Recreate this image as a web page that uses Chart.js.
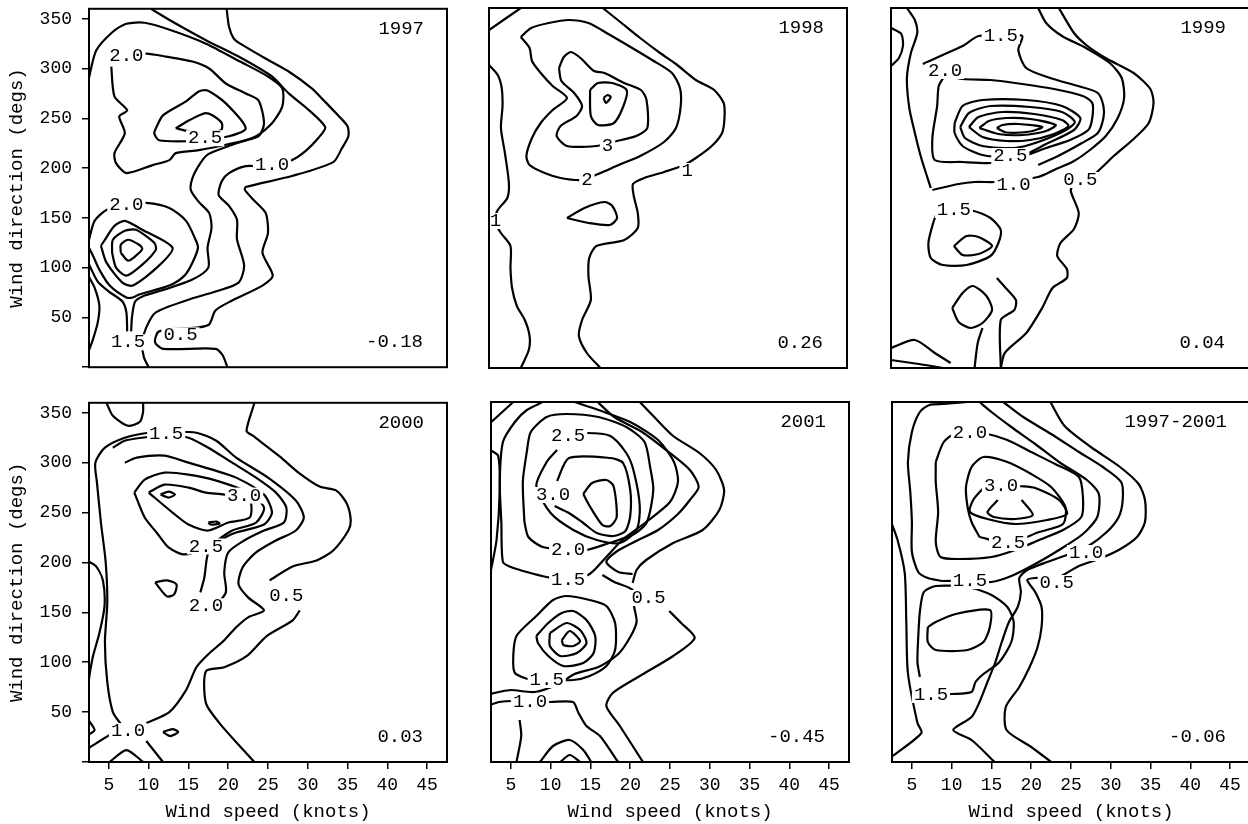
<!DOCTYPE html>
<html><head><meta charset="utf-8">
<script src="https://cdn.jsdelivr.net/npm/chart.js@4.4.1/dist/chart.umd.min.js"></script>
<style>
html,body{margin:0;padding:0;background:#fff;}
body{width:1248px;height:824px;overflow:hidden;position:relative;}
canvas{position:absolute;}
</style></head>
<body>
<canvas id="c0"></canvas><canvas id="c1"></canvas><canvas id="c2"></canvas>
<canvas id="c3"></canvas><canvas id="c4"></canvas><canvas id="c5"></canvas>
<script>
// ---------- data ----------
const xTicks = [5,10,15,20,25,30,35,40,45];
const yTicks = [0,50,100,150,200,250,300,350];
const panelTitles = ['1997','1998','1999','2000','2001','1997-2001'];
const panelCorr = ['-0.18','0.26','0.04','0.03','-0.45','-0.06'];

// contour polylines: [wind speed (knots), wind direction (degs)]
const lines1997 = [
 [[19.8,360],[20.1,342],[20.7,330],[21.5,325],[24.7,310],[27.6,297],[30.5,280],[32,268],[33.8,253],[35,242],[35.1,232],[34.3,220],[33.2,206],[28,192],[22.2,181],[22.1,178],[23.2,168],[24.7,155],[25,135],[24.3,115],[25.6,92],[24.3,82],[20.5,67],[18.4,57],[17.6,43],[16.3,40],[11.3,36],[10.8,25],[11.8,18.5],[18.4,18.5],[19.3,12],[19.9,0]],
 [[10.3,360],[13,347],[17.2,328.5],[21.3,312],[25.5,292],[27.6,275],[30.1,258.5],[32.2,241],[31.3,230],[29.7,217],[28,208],[24.7,202],[22.2,202],[20.1,195],[19.2,187],[18.8,173],[20.1,162],[21.1,148],[21.1,128.5],[22,102],[21.3,85],[18.4,76],[14.7,67],[10.9,55],[9.7,40],[9.2,25],[9.4,10],[10,0]],
 [[2.4,287],[3.4,318],[5.5,337],[7.2,345],[9.5,346],[13,338],[17.2,325],[21.5,307],[25,292],[26.8,280],[26.8,262],[25.5,245],[23.5,232],[20,222],[17.5,214],[16.5,205],[15.5,190],[15.3,178],[16.3,166],[17.6,155],[17.9,140],[17.4,120],[17.5,100],[15.5,88],[12,78],[9.5,72],[8.3,66],[7.9,50],[7.8,36]],
 [[7.3,36],[7.2,55],[6.7,66],[5,76],[3.6,86],[2.4,105]],
 [[2.4,92],[3.2,80],[3.8,62],[3.6,45],[3,28],[2.4,15]],
 [[7.2,313],[9.7,315],[12.2,312],[15.5,307],[17.6,300],[19.7,285],[22.2,275],[23.8,268],[24.5,245],[23.8,232],[20.5,225],[16.3,218],[13.4,215],[12.6,208],[10.5,203],[7.2,195],[5.9,205],[5.7,215],[7,235],[6.3,252],[7.3,258],[5.7,272],[5.3,302]],
 [[10.9,240],[11.8,253],[14.7,267],[16.3,277],[17.4,278],[19.7,265],[22.2,240],[20.1,232],[17.2,229],[14.9,227],[11.3,228],[10.7,235],[10.9,240]],
 [[13.4,240],[15.1,248],[17,255],[18,253],[19.2,245],[19.1,238],[17,236],[15,237],[13.4,240]],
 [[2.5,128],[3.2,147],[4.7,158],[7.2,164],[9.7,165],[12.6,160],[14.7,147],[15.9,128],[16.2,120],[15.5,105],[14.5,92],[12.6,82],[8.8,73],[8,70],[7.2,70],[5.1,82],[3.8,98],[3,112],[2.5,120]],
 [[4,122],[4.5,128],[5.7,142],[7,147],[9.2,138],[13,120],[11.3,102],[8,82],[6.7,85],[4.7,105],[4,122]],
 [[5.4,115],[5.5,128],[7,137],[8.4,138],[10.7,125],[10.9,118],[9.2,103],[7.2,92],[5.9,100],[5.4,115]],
 [[6.5,115],[6.5,123],[7.4,128],[8.8,123],[9.2,119],[8.4,112],[7.4,107],[6.5,115]]
];
const labels1997 = [['2.0',7.2,313],['2.5',17.1,230],['1.0',25.5,203],['2.0',7.2,163],['1.5',7.4,25],['0.5',14,32]];

const lines1998 = [
 [[2.5,338],[6.5,360]],
 [[2.5,303],[3.6,293],[4.1,280],[4.2,262],[4,240],[4.5,215],[5,185],[4.8,170],[3.6,158],[3.2,147],[4,135],[5.2,122],[5.2,100],[5.4,80],[6,62],[7,48],[7.6,32],[7.5,18],[6.5,0]],
 [[16.8,360],[19,346],[21.5,330],[24,315],[26,304],[28.5,288],[30.8,278],[32,265],[32.1,250],[31.8,235],[30.5,222],[28.5,210],[27,203],[24.5,196],[22,190],[20.6,184],[20.7,172],[21.2,155],[21.2,140],[19.5,128],[16,122],[15.1,110],[15,92],[15.3,68],[14.2,48],[13.8,32],[14.8,15],[16.5,0]],
 [[6.5,331],[7.8,340],[10,345],[12.5,348],[15,345],[17.5,334],[20.5,320],[23,308],[25.5,295],[26.5,280],[26.6,262],[26,240],[24.5,226],[21.5,212],[18.5,202],[16.5,195],[14.2,188],[11.5,190],[9.5,195],[7.6,203],[7.2,212],[7.9,230],[9,245],[10.5,258],[12.3,270],[10.5,282],[9,295],[7.9,307],[7.6,320],[6.5,331]],
 [[11.3,300],[11.9,311],[12.8,316],[14,310],[15.7,297],[17,295],[19.5,285],[21.6,278],[22.3,268],[22.4,240],[21,232],[18,226],[16,222],[12.3,222],[11,232],[11.5,242],[13.5,252],[14.2,262],[13.2,275],[11.6,287],[11.3,300]],
 [[15.2,278],[16.2,285],[18,285],[19.8,278],[19.4,262],[18.2,245],[16.2,243],[15.3,252],[15.2,278]],
 [[16.9,270],[17.4,273],[17.8,271],[17.2,265],[16.9,270]],
 [[12.3,150],[14.5,160],[17,166],[18,162],[18.6,150],[17.7,143],[15,145],[12.3,150]]
];
const labels1998 = [['1',27.4,197],['2',14.8,188],['3',17.4,222],['1',3.3,147]];

const lines1999 = [
 [[23.6,360],[25.5,335],[27.2,322],[29.7,309],[33,295],[35.1,279],[35.5,265],[34.9,245],[33,229],[30.5,212],[29.2,202],[27.5,190],[25.5,184],[25.1,177],[26.1,155],[25.5,139],[23.8,125],[23.4,112],[24.6,99],[24.6,90],[22.8,80],[21.5,60],[19.5,35],[16.8,15],[16.3,0]],
 [[21,360],[22,345],[24,332],[27,320],[30,305],[31.5,290],[31.8,270],[31,250],[29.5,232],[27.5,218],[25.5,207],[23,198],[21,191],[18,188],[15.5,186],[13,186],[11,184],[7.7,178]],
 [[6.5,304],[9,313],[11.5,322],[13.5,332],[16.3,332],[19,332],[18.5,318],[19.5,300],[22.5,290],[26,282],[28.5,275],[29.2,262],[29.2,250],[28.5,235],[26.5,225],[23.5,212],[21,203]],
 [[9.3,293],[11.5,289],[15,288],[19,284],[23,279],[26.6,272],[27.8,265],[27.8,250],[27.3,238],[25,228],[22,220],[18.5,210],[15,205],[11.5,206],[8,208],[7.7,230],[8.3,262],[8.5,282],[9.3,293]],
 [[10.5,245],[11.5,262],[14,268],[19.5,268],[24,262],[26.3,250],[25.5,238],[22,224],[19.5,214],[17.5,211],[14,213],[11.5,222],[10.5,235],[10.5,245]],
 [[11.2,241],[12.3,255],[15,262],[20,261],[24,256],[25.6,246],[24.5,238],[21,226],[18,220],[14,222],[11.8,230],[11.2,241]],
 [[12.3,241],[13.5,251],[16.5,256],[20.5,254],[24,248],[24.8,242],[23,234],[20,228],[17,227],[14,231],[12.3,241]],
 [[13.6,240],[14.8,247],[17,250],[20,249],[23.2,243],[22,237],[19,233],[16,234],[13.6,240]],
 [[15.8,240],[16.5,243],[18.5,244],[21.5,241],[20,236.5],[17,235.5],[15.8,240]],
 [[8.5,160],[10.4,160],[12.5,158],[15,150],[16.3,138],[16,125],[15,112],[12,103],[9,103],[7.5,110],[7.2,125],[7.8,145],[8.5,160]],
 [[10.4,122],[12,132],[13.5,131],[15.2,122],[13.5,114],[11.5,113],[10.4,122]],
 [[10.2,60],[11.5,75],[12.8,82],[14.5,72],[15.2,58],[14,45],[12.5,40],[11,46],[10.2,60]],
 [[16.3,0],[16.3,48],[18,58],[18.2,68],[16.7,82],[15.8,90]],
 [[13,0],[13.4,25],[14,40]],
 [[2.5,340],[3.8,334],[4,322],[3.5,310],[2.5,302]],
 [[4.5,360],[5.5,348],[5.8,335],[5,315],[4.5,290],[4.8,260],[5.5,235],[6.3,210],[7.5,180]],
 [[2.5,20],[5.5,28],[8,15],[10,5]],
 [[2.5,8],[6,4],[9,0]]
];
const labels1999 = [['1.5',16.3,332],['2.0',9.3,297],['2.5',17.5,212],['1.0',17.9,183],['0.5',26.3,188],['1.5',10.4,158]];

const lines2000 = [
 [[23.3,360],[22.3,332],[23.1,327],[26.5,306],[29,289],[31.5,276],[33.6,272],[34.9,259],[35.4,242],[35.1,232],[33.2,212],[31.1,202],[28.1,196],[25.2,182]],
 [[29,152],[28.1,142],[24.8,126],[22.3,106],[19.5,95],[17.2,91],[17.2,59],[18.9,39],[21.9,12],[23.3,0]],
 [[9.7,39],[12.6,50],[14.7,72],[16,95],[17.5,108],[19.5,122],[21,135],[22.5,145],[24.5,152],[22.5,165],[21.3,178],[21.8,195],[23.5,210],[26,222],[28.5,232],[29.5,245],[28.5,262],[25,285],[21,305],[18.5,322],[16,330],[13,331],[10,330],[7,325],[4.5,315],[3.3,300],[3.5,280],[4,240],[4.6,200],[4.8,160],[4.5,120],[4.8,80],[5.5,50],[6.5,38]],
 [[4.7,360],[5.5,347],[7.4,337],[8.9,341],[9.3,351],[9.3,360]],
 [[5.5,315],[7,322],[10,326],[12.2,329],[15,325],[17.5,315],[20.5,300],[23.5,285],[26,270],[27.3,255],[27,240],[24.5,232],[22,222],[20,210],[19.5,190],[19.7,170],[18.3,155]],
 [[7,300],[8.5,305],[12,307],[15,300],[18,293],[21,285],[24.5,268],[25.5,250],[24.5,238],[21,230],[19,222],[17.5,210],[17,185],[16.5,170]],
 [[8.2,270],[9.5,283],[12,290],[15,288],[18.5,282],[22.5,270],[24.5,255],[23.5,240],[20.5,232],[17.2,215],[14.5,208],[12.5,215],[11,230],[9.5,245],[8.2,270]],
 [[10,270],[12,278],[15,275],[17.2,270],[19.5,268],[22.7,262],[22.7,245],[20,240],[17.5,232],[15,238],[13,250],[10,270]],
 [[11.5,268],[12.5,271],[13.3,268],[12.5,265],[11.5,268]],
 [[17.5,240],[18.5,241],[18.9,239],[17.8,238],[17.5,240]],
 [[10.8,180],[12.3,182],[13.5,178],[13.2,168],[12.3,166],[10.8,180]],
 [[11.8,30],[13,33],[13.7,30],[12.7,26],[11.8,30]],
 [[2.45,201],[3.4,196],[4.25,182],[4.45,156],[3.8,129],[3,106],[2.6,89],[2.45,80]],
 [[2.45,14],[5.1,27],[6,30]],
 [[5.1,0],[7.2,12],[9.3,0]],
 [[9.7,21],[11.8,0]],
 [[2.45,42],[3.2,32],[2.6,28]]
];
const labels2000 = [['1.5',12.2,329],['3.0',22,267],['2.5',17.2,216],['2.0',17.2,156],['0.5',27.3,166],['1.0',7.4,31]];

const lines2001 = [
 [[21.2,360],[22.9,346],[25.4,326],[28.7,309],[30.8,292],[31.8,272],[31.2,252],[29.1,232],[25.4,219],[22,202],[20.8,192],[20.3,179]],
 [[24.9,151],[26.4,139],[28.1,124],[25.4,106],[21.2,86],[17.8,69],[17,56],[18.7,36],[21.6,0]],
 [[15.9,360],[18,345],[21.5,330],[24.5,312],[27.5,292],[28.6,275],[27.5,262],[26,248],[23.5,232],[20.5,220],[18.2,210],[17,200],[18.5,190],[20.3,188]],
 [[16.5,187],[18,180],[20.3,172],[20.5,155],[20.8,140],[20,125],[18.5,108],[16,95],[13,88],[11,78],[8,70],[5,72],[3.5,70],[2.4,68]],
 [[9,360],[7,352],[5.5,340],[4,320],[3.6,280],[3.8,240],[4,200],[5,195],[7,190],[9.5,185],[12.2,182],[14.9,188],[17,205],[19,222],[22,240],[25,260],[26,280],[25.5,300],[23.5,322],[20,340],[16,352],[13,360]],
 [[6.7,240],[6.5,280],[7,310],[7.5,330],[9.5,345],[12,348],[16,345],[19.5,335],[21.8,320],[22.5,295],[22.9,272],[22.1,240],[20.5,228],[17,218],[14.5,212],[12.2,212],[9,215],[7.2,225],[6.7,240]],
 [[12.2,326],[14.5,329],[17.5,326],[19.5,309],[20.4,292],[21.2,256],[20.8,232],[18.7,219],[15.8,222],[12.85,232],[10,249],[8.2,276],[9.5,300],[10.8,312]],
 [[10.5,256],[12.3,249],[14.1,239],[15.8,229],[17.9,226],[19.4,231],[20,246],[20,272],[19.1,299],[17.5,304],[12.3,304],[10.8,281]],
 [[14.1,268],[15.2,279],[17,282],[17.9,276],[18.3,245],[17.5,236],[16.5,237],[14.9,256],[14.1,268]],
 [[9.5,82],[12.85,82],[14.9,86],[17,96],[18.1,112],[18.1,139],[17,156],[14.9,162],[12,166],[10.3,162],[8.2,146],[5.7,126],[5.3,106],[5.5,89],[7.4,82]],
 [[8.2,126],[9.7,139],[11.4,149],[12.85,151],[14.5,142],[15.6,126],[15.4,109],[14.1,99],[11.6,96],[9.7,106],[8.4,119],[8.2,126]],
 [[9.9,129],[12,139],[13.7,132],[14.5,119],[13.3,109],[11.2,106],[9.9,116],[9.9,129]],
 [[11.4,122],[12.4,131],[13.7,121],[12.85,116],[11.6,117],[11.4,122]],
 [[2.4,57],[3.5,60],[5.3,61],[7.4,60],[10,60],[12.8,60],[13.5,49],[14.5,36],[16.2,26],[18.3,2],[18.5,0]],
 [[6.1,42],[6.3,26],[5.7,0]],
 [[8.65,0],[10.3,16],[12.4,22],[14.1,12],[15.1,0]],
 [[11.2,0],[12.4,7],[13.7,0]],
 [[2.4,339],[5.3,360]],
 [[2.4,312],[3.4,306],[3.6,272],[3.2,222],[2.5,192]]
];
const labels2001 = [['2.5',12.2,326],['3.0',10.3,267],['2.0',12.2,212],['1.5',12.2,182],['0.5',22.3,164],['1.5',9.5,82],['1.0',7.4,60]];

const linesAll = [
 [[22.4,360],[24.2,336],[27.5,315],[31,296],[33.5,278],[34.3,262],[34.3,240],[33.3,225],[31,212],[28.5,203],[26,196],[23.2,184],[20.5,184],[19.5,182],[20.5,170],[21.3,155],[21.3,135],[20.8,115],[19.8,95],[18.5,75],[16.8,55],[16.9,32],[20,15],[22.5,0]],
 [[16.5,360],[19,345],[22.5,328],[26,310],[29,295],[31.3,280],[31.5,262],[31,245],[29.5,230],[27,215],[24.5,207],[22,200],[19.5,192],[18.5,184],[18.7,170],[18.3,155],[17.2,140],[16.3,120],[15.5,100],[14.5,80],[13.5,60],[12.5,45],[10.2,32],[12.5,22],[15.4,0]],
 [[8.8,181],[12.3,181],[15,180],[17.5,186],[20.5,198],[23.5,212],[26.5,228],[28.3,245],[28.5,268],[27,282],[23.5,300],[20.5,318],[17.5,335],[15,350],[13.5,360]],
 [[8.8,181],[7,184],[5.8,190],[5,210],[5,240],[4.8,270],[4.5,300],[5,330],[6,350],[7.2,357],[9,358],[12,360]],
 [[7.4,67],[10,68],[12.5,70],[13,80],[14,88],[16,100],[17.5,120],[17.8,140],[17,155],[15,167],[12,175],[8,176],[6.5,170],[6,150],[5.8,125],[5.7,100],[6,85]],
 [[8,300],[9,320],[10.5,329],[12.3,329],[14.5,328],[17,322],[20,310],[23,298],[26,285],[26.5,265],[26.3,245],[24,232],[21,222],[18,212],[15,205],[11,203],[8.6,205],[8,220],[8.3,250],[8,280],[8,300]],
 [[13.5,225],[12.5,240],[12,255],[11.8,275],[12.5,295],[14,305],[17,300],[20,288],[22.5,275],[24.3,255],[24,238],[21,230],[17.1,219],[13.5,225]],
 [[14,274],[12.7,262],[12.3,250],[14.5,243],[18,238],[22,242],[24.5,248],[23.5,262],[20.5,274],[18.5,276]],
 [[15.8,262],[14.5,250],[15.3,245],[18,243],[20.2,247],[18.8,262]],
 [[7,135],[8,140],[10.5,148],[14.8,152],[14.8,135],[14,120],[12,112],[8,112],[7,120],[7,135]],
 [[2.3,242],[3.2,222],[4.1,189],[4.3,139],[4.5,89],[5.7,39],[6.2,29],[2.6,6]]
];
const labelsAll = [['2.0',12.3,329],['3.0',16.2,276],['2.5',17.1,219],['1.0',26.9,209],['1.5',12.3,181],['0.5',23.2,179],['1.5',7.4,67]];

const panelLines = [lines1997, lines1998, lines1999, lines2000, lines2001, linesAll];
const panelLabels = [labels1997, labels1998, labels1999, labels2000, labels2001, labelsAll];

// ---------- layout (pixels) ----------
const PW = 358, PH = 360;
const plotPos = [[89,8],[489,8],[891,8],[89,402],[491,402],[892,402]];
const FONT = 'Liberation Mono, Courier New, monospace';

const deco = {
  id: 'deco',
  afterDatasetsDraw(chart) {
    const i = chart.options.plugins.deco.idx;
    const {ctx, chartArea: a, scales: {x, y}} = chart;
    ctx.save();
    ctx.font = '19px ' + FONT;
    ctx.textBaseline = 'middle';
    ctx.textAlign = 'center';
    for (const [t, vx, vy] of panelLabels[i]) {
      const px = x.getPixelForValue(vx), py = y.getPixelForValue(vy);
      const w = ctx.measureText(t).width;
      ctx.fillStyle = '#fff';
      ctx.fillRect(px - w/2 - 2, py - 8, w + 4, 16);
      ctx.fillStyle = '#000';
      ctx.fillText(t, px, py);
    }
    ctx.fillStyle = '#000';
    ctx.textAlign = 'right';
    ctx.fillText(panelTitles[i], a.right - 23, a.top + 20);
    ctx.fillText(panelCorr[i], a.right - 24, a.bottom - 25);
    ctx.lineWidth = 2;
    ctx.strokeStyle = '#000';
    ctx.strokeRect(a.left, a.top, a.right - a.left, a.bottom - a.top);
    ctx.restore();
  }
};

function makeChart(i) {
  const [gx, gy] = plotPos[i];
  const bottomRow = i >= 3, leftCol = i % 3 === 0;
  const W = 95 + PW + 20, H = 20 + PH + (bottomRow ? 62 : 20);
  const cv = document.getElementById('c' + i);
  cv.width = W; cv.height = H;
  cv.style.left = (gx - 95) + 'px'; cv.style.top = (gy - 20) + 'px';
  cv.style.width = W + 'px'; cv.style.height = H + 'px';
  new Chart(cv, {
    type: 'scatter',
    data: {
      datasets: panelLines[i].map(l => ({
        data: l.map(p => ({x: p[0], y: p[1]})),
        showLine: true, borderColor: '#000', borderWidth: 2.2,
        pointRadius: 0, tension: 0.25, fill: false
      }))
    },
    options: {
      responsive: false, animation: false, devicePixelRatio: 1,
      layout: {padding: {top: 20, right: 20, left: 0, bottom: 0}},
      plugins: {legend: {display: false}, tooltip: {enabled: false}, deco: {idx: i}},
      scales: {
        x: {
          type: 'linear', min: 2.5, max: 47.5,
          afterBuildTicks: s => { s.ticks = xTicks.map(v => ({value: v})); },
          afterFit: s => { s.height = bottomRow ? 62 : 20; },
          grid: {display: bottomRow, drawOnChartArea: false, drawTicks: true, tickLength: 7, color: '#000', lineWidth: 1.5},
          border: {display: false},
          ticks: {display: bottomRow, color: '#000', font: {family: FONT, size: 18}, padding: 5, maxRotation: 0, autoSkip: false},
          title: {display: bottomRow, text: 'Wind speed (knots)', color: '#000', font: {family: FONT, size: 19}, padding: {top: 0, bottom: 1}}
        },
        y: {
          type: 'linear', min: 0, max: 360,
          afterBuildTicks: s => { s.ticks = yTicks.map(v => ({value: v})); },
          afterFit: s => { s.width = 95; },
          grid: {display: leftCol, drawOnChartArea: false, drawTicks: true, tickLength: 7, color: '#000', lineWidth: 1.5},
          border: {display: false},
          ticks: {display: leftCol, color: '#000', font: {family: FONT, size: 18}, padding: 10,
                  callback: v => v === 0 ? '' : String(v)},
          title: {display: leftCol, text: 'Wind direction (degs)', color: '#000', font: {family: FONT, size: 19}, padding: {top: 12, bottom: 0}}
        }
      }
    },
    plugins: [deco]
  });
}
for (let i = 0; i < 6; i++) makeChart(i);
</script>
</body></html>
